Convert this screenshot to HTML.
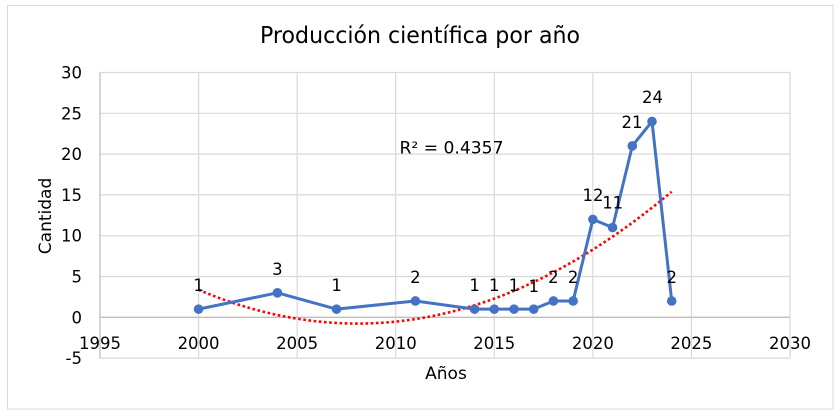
<!DOCTYPE html>
<html><head><meta charset="utf-8"><style>
html,body{margin:0;padding:0;background:#fff;}
svg{display:block;}
text{font-family:"DejaVu Sans","Liberation Sans",sans-serif;fill:#000;}
</style></head><body>
<svg width="840" height="416" viewBox="0 0 840 416" xmlns="http://www.w3.org/2000/svg">
<rect x="0" y="0" width="840" height="416" fill="#fff"/>
<rect x="7.5" y="5.5" width="825.5" height="403.5" fill="none" stroke="#d9d9d9" stroke-width="1"/>
<text x="420" y="43" font-size="23" text-anchor="middle" textLength="320" lengthAdjust="spacingAndGlyphs">Producción científica por año</text>
<g stroke="#d9d9d9" stroke-width="1.2" fill="none">
<line x1="100" y1="72.5" x2="790" y2="72.5"/>
<line x1="100" y1="113.3" x2="790" y2="113.3"/>
<line x1="100" y1="154.1" x2="790" y2="154.1"/>
<line x1="100" y1="194.9" x2="790" y2="194.9"/>
<line x1="100" y1="235.7" x2="790" y2="235.7"/>
<line x1="100" y1="276.5" x2="790" y2="276.5"/>
<line x1="100" y1="358.1" x2="790" y2="358.1"/>
<line x1="198.57" y1="72.5" x2="198.57" y2="358.1"/>
<line x1="297.14" y1="72.5" x2="297.14" y2="358.1"/>
<line x1="395.71" y1="72.5" x2="395.71" y2="358.1"/>
<line x1="494.29" y1="72.5" x2="494.29" y2="358.1"/>
<line x1="592.86" y1="72.5" x2="592.86" y2="358.1"/>
<line x1="691.43" y1="72.5" x2="691.43" y2="358.1"/>
<line x1="790" y1="72.5" x2="790" y2="358.1"/>
</g>
<g stroke="#bfbfbf" stroke-width="1.3">
<line x1="100" y1="72.5" x2="100" y2="358.1"/>
<line x1="100" y1="317.3" x2="790" y2="317.3"/>
</g>
<g font-size="16.5" text-anchor="end">
<text x="82" y="78.5">30</text>
<text x="82" y="119.3">25</text>
<text x="82" y="160.1">20</text>
<text x="82" y="200.9">15</text>
<text x="82" y="241.7">10</text>
<text x="82" y="282.5">5</text>
<text x="82" y="323.3">0</text>
<text x="82" y="364.1">-5</text>
</g>
<g font-size="16.5" text-anchor="middle">
<text x="100" y="349">1995</text>
<text x="198.57" y="349">2000</text>
<text x="297.14" y="349">2005</text>
<text x="395.71" y="349">2010</text>
<text x="494.29" y="349">2015</text>
<text x="592.86" y="349">2020</text>
<text x="691.43" y="349">2025</text>
<text x="790" y="349">2030</text>
</g>
<text x="446" y="379" font-size="17" text-anchor="middle">Años</text>
<text transform="translate(51,216) rotate(-90)" font-size="17" text-anchor="middle">Cantidad</text>
<path d="M198.57,289.8 Q435.14,390.3 671.7,191.7" fill="none" stroke="#ff0000" stroke-width="2.6" stroke-dasharray="2.6 2.6"/>
<polyline fill="none" stroke="#4472C4" stroke-width="3" stroke-linejoin="round" points="198.57,309.14 277.43,292.82 336.57,309.14 415.43,300.98 474.57,309.14 494.29,309.14 514,309.14 533.71,309.14 553.43,300.98 573.14,300.98 592.86,219.38 612.57,227.54 632.29,145.94 652,121.46 671.71,300.98"/>
<g fill="#4472C4">
<circle cx="198.57" cy="309.14" r="4.8"/>
<circle cx="277.43" cy="292.82" r="4.8"/>
<circle cx="336.57" cy="309.14" r="4.8"/>
<circle cx="415.43" cy="300.98" r="4.8"/>
<circle cx="474.57" cy="309.14" r="4.8"/>
<circle cx="494.29" cy="309.14" r="4.8"/>
<circle cx="514" cy="309.14" r="4.8"/>
<circle cx="533.71" cy="309.14" r="4.8"/>
<circle cx="553.43" cy="300.98" r="4.8"/>
<circle cx="573.14" cy="300.98" r="4.8"/>
<circle cx="592.86" cy="219.38" r="4.8"/>
<circle cx="612.57" cy="227.54" r="4.8"/>
<circle cx="632.29" cy="145.94" r="4.8"/>
<circle cx="652" cy="121.46" r="4.8"/>
<circle cx="671.71" cy="300.98" r="4.8"/>
</g>
<g font-size="16.5" text-anchor="middle">
<text x="198.57" y="291">1</text>
<text x="277.43" y="275">3</text>
<text x="336.57" y="291">1</text>
<text x="415.43" y="283">2</text>
<text x="474.57" y="291">1</text>
<text x="494.29" y="291">1</text>
<text x="514" y="291">1</text>
<text x="533.71" y="292">1</text>
<text x="553.43" y="283">2</text>
<text x="573.14" y="283">2</text>
<text x="593" y="201">12</text>
<text x="612.7" y="208.5">11</text>
<text x="632" y="128">21</text>
<text x="652.5" y="103">24</text>
<text x="671.71" y="283">2</text>
</g>
<text x="399.5" y="153.5" font-size="16.5" textLength="104" lengthAdjust="spacingAndGlyphs">R² = 0.4357</text>
</svg>
</body></html>
